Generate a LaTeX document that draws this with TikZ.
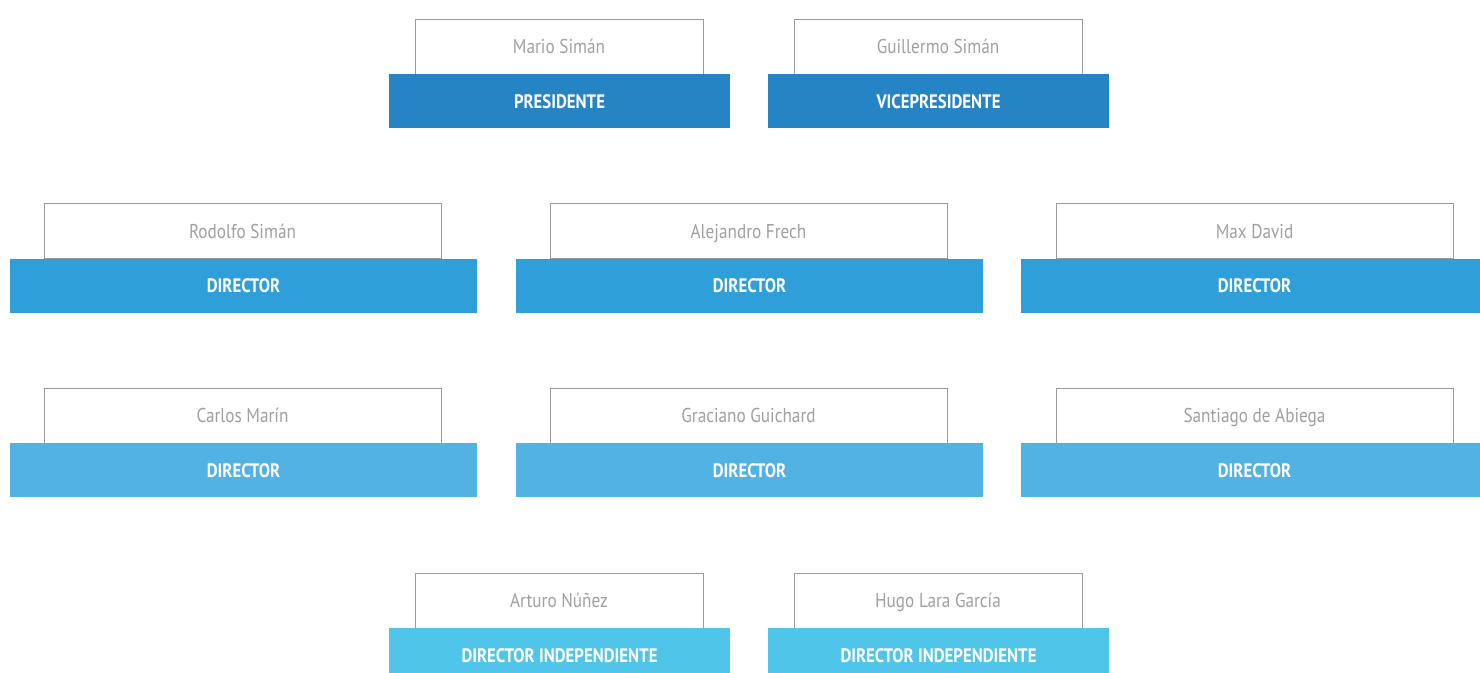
\documentclass[tikz,border=0pt]{standalone}
\usepackage{fontspec}
\setmainfont[FakeStretch=0.86]{PT Sans}
\definecolor{c1}{HTML}{2584C4}
\definecolor{c2}{HTML}{2E9FD8}
\definecolor{c3}{HTML}{52B2E2}
\definecolor{c4}{HTML}{50C5EA}
\definecolor{gline}{HTML}{9A9A9A}
\definecolor{gtext}{HTML}{A0A0A0}
\tikzset{
  namebox/.style={draw=gline, line width=1pt, fill=white, rectangle, inner sep=0pt, outer sep=0pt, minimum height=55pt, text=gtext, text height=14pt, text depth=0pt, font=\fontsize{20}{22}\selectfont},
  titlebar/.style={rectangle, inner sep=0pt, outer sep=0pt, minimum height=54pt, text=white, text height=14pt, text depth=0pt, font=\bfseries\fontsize{19.5}{22}\selectfont},
  smallname/.style={namebox, minimum width=288pt},
  smallbar/.style={titlebar, minimum width=341pt},
  bigname/.style={namebox, minimum width=397pt},
  bigbar/.style={titlebar, minimum width=467pt},
}
\begin{document}
\begin{tikzpicture}[x=1pt,y=-1pt]
\useasboundingbox (0,0) rectangle (1480,672);
\clip (0,0) rectangle (1480,672);
\fill[white] (0,0) rectangle (1480,672);
% row 1
\node[smallname] (n1) at (559,46.5) {Mario Simán};
\node[smallbar, fill=c1] (b1) at (559.5,101) {PRESIDENTE};
\node[smallname] (n2) at (938,46.5) {Guillermo Simán};
\node[smallbar, fill=c1] (b2) at (938.5,101) {VICEPRESIDENTE};
% row 2
\node[bigname] (n3) at (242.5,231) {Rodolfo Simán};
\node[bigbar, fill=c2] (b3) at (243.5,285.5) {DIRECTOR};
\node[bigname] (n4) at (748.5,231) {Alejandro Frech};
\node[bigbar, fill=c2] (b4) at (749.5,285.5) {DIRECTOR};
\node[bigname] (n5) at (1254.5,231) {Max David};
\node[bigbar, fill=c2] (b5) at (1254.5,285.5) {DIRECTOR};
% row 3
\node[bigname] (n6) at (242.5,415.5) {Carlos Marín};
\node[bigbar, fill=c3] (b6) at (243.5,470) {DIRECTOR};
\node[bigname] (n7) at (748.5,415.5) {Graciano Guichard};
\node[bigbar, fill=c3] (b7) at (749.5,470) {DIRECTOR};
\node[bigname] (n8) at (1254.5,415.5) {Santiago de Abiega};
\node[bigbar, fill=c3] (b8) at (1254.5,470) {DIRECTOR};
% row 4
\node[smallname] (n9) at (559,600.5) {Arturo Núñez};
\node[smallbar, fill=c4] (b9) at (559.5,655) {DIRECTOR INDEPENDIENTE};
\node[smallname] (n10) at (938,600.5) {Hugo Lara García};
\node[smallbar, fill=c4] (b10) at (938.5,655) {DIRECTOR INDEPENDIENTE};
\end{tikzpicture}
\end{document}
